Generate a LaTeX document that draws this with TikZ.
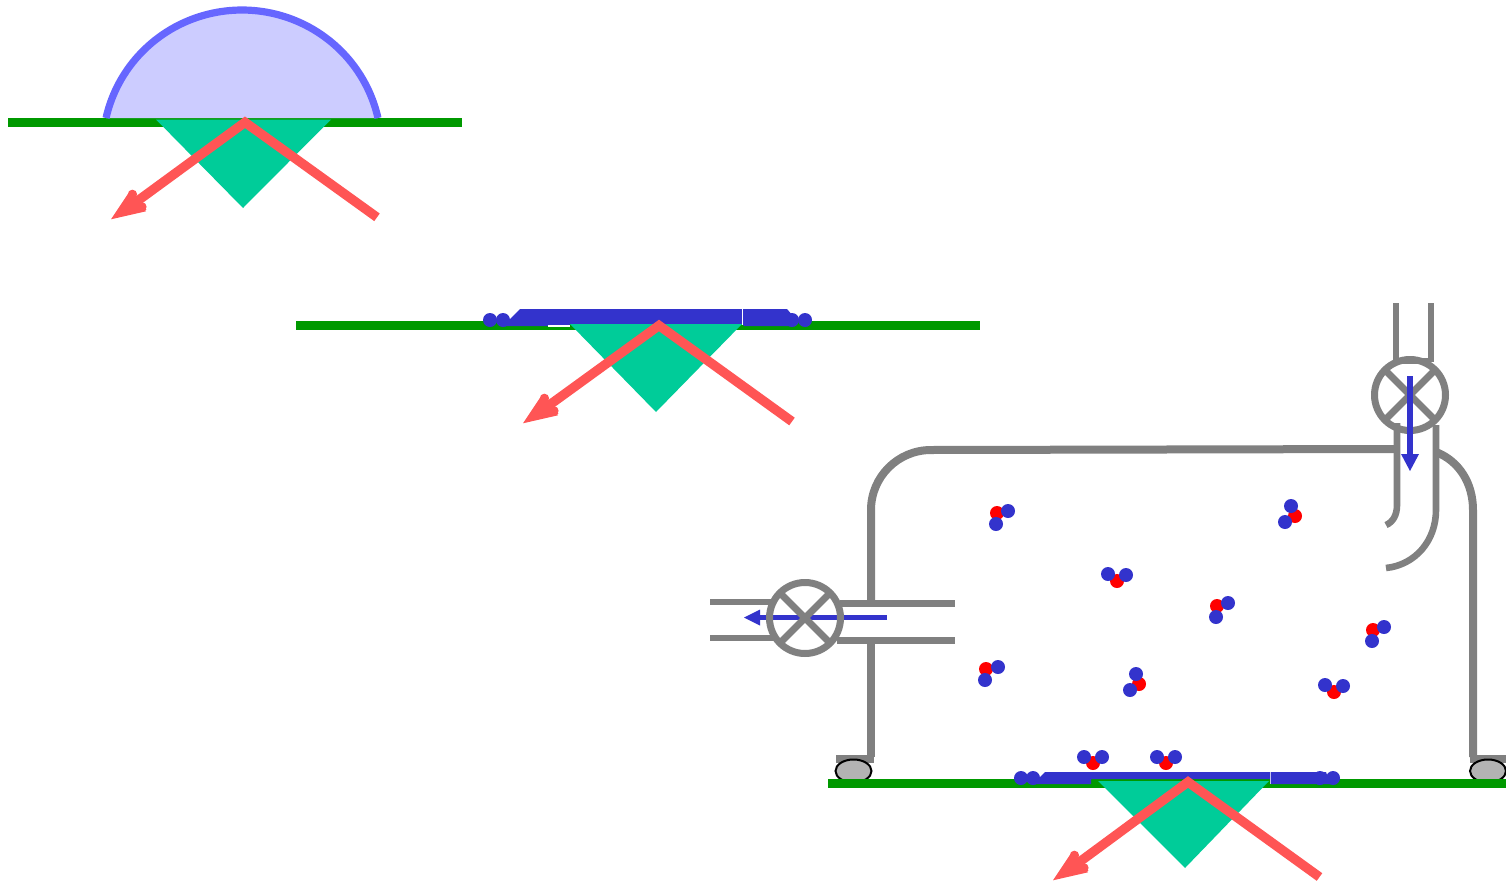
\documentclass[tikz,border=0pt]{standalone}
\definecolor{surf}{HTML}{009900}
\definecolor{prismc}{HTML}{00CC99}
\definecolor{rayc}{HTML}{FF5555}
\definecolor{film}{HTML}{3333CC}
\definecolor{pipe}{HTML}{808080}
\definecolor{dropfill}{HTML}{CCCCFF}
\definecolor{dropline}{HTML}{6666FF}
\definecolor{oring}{HTML}{B3B3B3}
\newcommand{\lightray}[3]{%
  \draw[rayc,line width=4.7pt,miter limit=10] (#2) -- (#1) -- ($(#3)+(26,-18)$);
  \begin{scope}[shift={(#3)}]
    \fill[rayc] (0,0) -- (18,-27) -- (26,-19) -- (35,-8) -- cycle;
    \fill[rayc] (21.5,-25) circle[radius=4.6];
    \fill[rayc] (31,-12.5) circle[radius=4.6];
    \fill[rayc] (17.5,-27.5) -- (21,-29.5) -- (28,-17) -- (35.5,-9.5) -- (31,-8) -- cycle;
  \end{scope}}
\newcommand{\moltwo}[3]{%
  \fill[red] (#1) circle[radius=7];
  \fill[film] (#2) circle[radius=7];
  \fill[film] (#3) circle[radius=7];}
\newcommand{\valve}[1]{%
  \begin{scope}[shift={(#1)}]
    \draw[pipe,line width=3.5pt] (0,0) circle[radius=35.5];
    \draw[pipe,line width=3.5pt] (-25,-25) -- (25,25) (-25,25) -- (25,-25);
  \end{scope}}
\usetikzlibrary{calc}
\begin{document}
\begin{tikzpicture}[x=0.5pt,y=-0.5pt,line cap=butt,
  surface/.style={surf,line width=4.7pt},
  pipeline/.style={pipe,line width=4pt},
  thinpipe/.style={pipe,line width=3.3pt}]
\useasboundingbox (0,0) rectangle (1506,884);
% scene 1
\draw[surface] (8,122.5) -- (462,122.5);
\filldraw[fill=dropfill,draw=dropline,line width=3.6pt]
  plot[domain=192.55:347.45,samples=80] ({242+139.3*cos(\x)},{148+138*sin(\x)});
\fill[prismc] (156,119.5) -- (331,119.5) -- (243,208) -- cycle;
\lightray{245,122.3}{377,217.3}{111,219.3}
% scene 2
\draw[surface] (296,325.5) -- (980,325.5);
\fill[film] (503,326) -- (520,309) -- (787,309) -- (793,316) -- (793,326) -- (744,326) -- (742,324) -- (570,324) -- (568,326) -- cycle;
\fill[white] (548,325) rectangle (570,327);
\fill[white] (741.5,309) rectangle (742.8,325);
\foreach \p in {490,503,792,805}{\fill[film] (\p,320) circle[radius=7];}
\fill[prismc] (570,324) -- (742,324) -- (656,412) -- cycle;
\lightray{659,325.5}{792,421.5}{523,423.3}
% scene 3: chamber
\draw[pipeline] (871,757) -- (871,643);
\draw[pipeline] (871,603) -- (871,510) arc[start angle=180,end angle=270,radius=60] -- (1397,449);
\draw[pipeline] (1436,452) .. controls (1459,461) and (1473,483) .. (1473,510) -- (1473,757);
\draw[pipe,line width=4pt] (836,759) -- (874,759);
\draw[pipe,line width=4pt] (1470,759) -- (1506,759);
\filldraw[fill=oring,draw=black,line width=1pt] (853.5,771) circle[x radius=18,y radius=11.5];
\filldraw[fill=oring,draw=black,line width=1pt] (1488,771) circle[x radius=18,y radius=11.5];
\draw[surface] (828,783.5) -- (1506,783.5);
\fill[film] (1033,784) -- (1040,777) -- (1045,772) -- (1326,772) -- (1330,784) -- (1271,784) -- (1270,779) -- (1091,779) -- (1091,784) -- cycle;
\fill[white!70!film] (1269.6,772) rectangle (1270.8,784);
\foreach \p in {1021,1033,1320,1333}{\fill[film] (\p,778) circle[radius=7];}
\fill[prismc] (1098,781) -- (1269,781) -- (1185,868) -- cycle;
\lightray{1188,782}{1319.5,877}{1053,880.3}
% left valve and pipes
\draw[thinpipe] (710,602) -- (775,602) (710,638) -- (775,638);
\draw[thinpipe] (840,603.5) -- (955,603.5) (837,640.5) -- (955,640.5);
\draw[film,line width=2.4pt] (887,617.5) -- (758,617.5);
\fill[film] (744,617.5) -- (760,609.5) -- (760,625.5) -- cycle;
\valve{805,618}
% top valve and pipes
\draw[thinpipe] (1396,303) -- (1396,362) (1431,303) -- (1431,362) (1396,361) -- (1431,361);
\valve{1410,395}
\draw[thinpipe] (1393,426.5) -- (1397,426.5) -- (1397,505) .. controls (1397,515) and (1393,522) .. (1386,525);
\draw[thinpipe] (1436,425) -- (1436,510) .. controls (1436,541) and (1415,565) .. (1386,568);
\draw[film,line width=3pt] (1410,376) -- (1410,456);
\fill[film] (1410,471) -- (1401,454) -- (1419,454) -- cycle;
% molecules
\moltwo{997,513}{1008,511}{996,524}
\moltwo{1217,606}{1228,603}{1216,617}
\moltwo{1373,630}{1384,627}{1372,641}
\moltwo{986,669}{998,667}{985,680}
\moltwo{1295,516}{1291,506}{1285,522}
\moltwo{1139,684}{1136,674}{1130,690}
\moltwo{1117,581}{1108,574}{1126,575}
\moltwo{1334,692}{1325,685}{1343,686}
\moltwo{1093,763}{1084,757}{1102,757}
\moltwo{1166,763}{1157,757}{1175,757}
\end{tikzpicture}
\end{document}
